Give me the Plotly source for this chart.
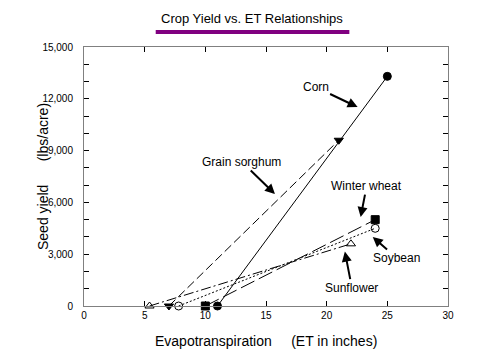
import plotly.graph_objects as go

# Data
crops = ["Corn", "Grain sorghum", "Winter wheat", "Soybean", "Sunflower"]
et_start = [11.0, 7.0, 10.0, 7.8, 5.4]
et_end = [25.0, 21.0, 24.0, 24.0, 22.0]
yield_start = [0, 0, 0, 0, 0]
yield_end = [13300, 9600, 5000, 4500, 3600]

dashes = ["solid", "9px,4px", "15px,5px", "2px,2px", "10px,3px,2px,3px"]
start_symbols = ["circle", "triangle-down", "square", "circle-open", "triangle-up-open"]
end_symbols = ["circle", "triangle-down", "square", "circle-open", "triangle-up-open"]

FONT = "Liberation Sans, Arial"

fig = go.Figure()
for i, c in enumerate(crops):
    fig.add_trace(go.Scatter(
        x=[et_start[i], et_end[i]], y=[yield_start[i], yield_end[i]],
        mode="lines+markers", name=c,
        line=dict(color="black", width=1, dash=dashes[i]),
        marker=dict(symbol=[start_symbols[i], end_symbols[i]], size=8,
                    color="black", line=dict(color="black", width=1)),
        cliponaxis=False, showlegend=False,
    ))

# Annotations: (label, head x, head y, ax, ay)
ann_labels = ["Corn", "Grain sorghum", "Winter wheat", "Soybean", "Sunflower"]
ann_x = [22.55, 15.74, 22.8, 23.8, 21.5]
ann_y = [11520, 6485, 5150, 4000, 3150]
ann_ax = [-42, -33, 6, 24, 7]
ann_ay = [-20, -32, -31, 21, 36]

for lab, hx, hy, ax, ay in zip(ann_labels, ann_x, ann_y, ann_ax, ann_ay):
    fig.add_annotation(x=hx, y=hy, ax=ax, ay=ay, text=lab, showarrow=True,
                       arrowhead=2, arrowsize=1, arrowwidth=2, arrowcolor="black",
                       font=dict(family=FONT, size=12, color="black"))

fig.add_annotation(xref="paper", yref="paper", x=0.462, y=1.11, text="Crop Yield vs. ET Relationships",
                   showarrow=False, font=dict(family=FONT, size=13, color="black"),
                   xanchor="center", yanchor="middle")
fig.add_shape(type="line", xref="paper", yref="paper", x0=0.197, x1=0.729, y0=1.058, y1=1.058,
              line=dict(color="#800080", width=4))

# Axis titles as annotations for exact placement
fig.add_annotation(xref="paper", yref="paper", x=-0.114, y=0.5, text="Seed yield      (lbs/acre)",
                   textangle=-90, showarrow=False, xanchor="center", yanchor="middle",
                   font=dict(family=FONT, size=14, color="black"))
fig.add_annotation(xref="paper", yref="paper", x=0.5, y=-0.135, text="Evapotranspiration     (ET in inches)",
                   showarrow=False, xanchor="center", yanchor="middle",
                   font=dict(family=FONT, size=14, color="black"))

axis_common = dict(showline=True, linecolor="#808080", linewidth=1, mirror="ticks",
                   ticks="inside", ticklen=5, tickcolor="black", tickwidth=1,
                   showgrid=False, zeroline=False,
                   tickfont=dict(family=FONT, size=10, color="black"))

fig.update_xaxes(range=[0, 30], tick0=0, dtick=5, ticklabelstandoff=0, **axis_common)
fig.update_yaxes(range=[0, 15000], tick0=0, dtick=3000, tickformat=",", ticklabelstandoff=8,
                 minor=dict(dtick=1000, ticks="inside", ticklen=5, tickcolor="black"),
                 **axis_common)

fig.update_layout(width=480, height=360, margin=dict(l=75.5, r=39.5, t=39, b=62, autoexpand=False),
                  plot_bgcolor="white", paper_bgcolor="white")

fig.write_html("out.html")
